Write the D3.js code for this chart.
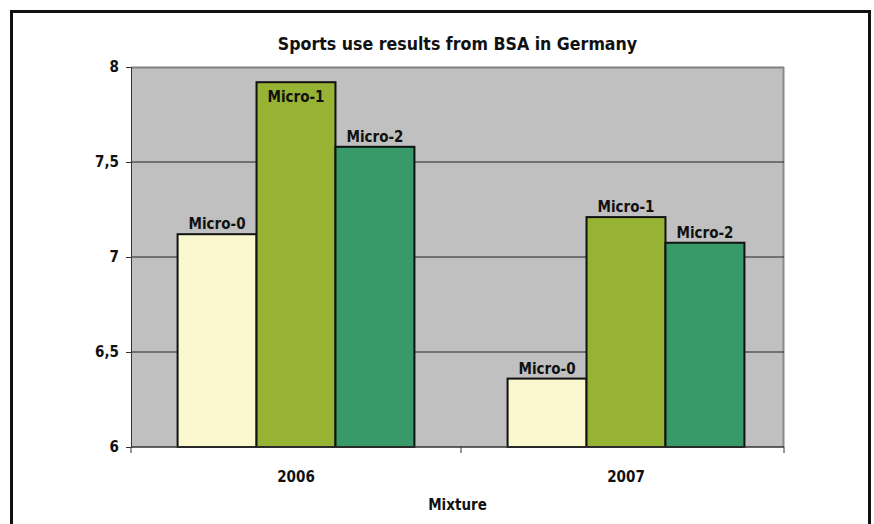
<!DOCTYPE html>
<html>
<head>
<meta charset="utf-8">
<script src="https://cdn.jsdelivr.net/npm/d3@7"></script>
<style>
  body { margin: 0; background: #fff; }
  text { font-family: "DejaVu Sans Condensed", "DejaVu Sans", sans-serif; font-weight: bold; fill: #111; }
</style>
</head>
<body>
<svg id="chart" width="874" height="524"></svg>
<script>
// chart values
let years = ["2006", "2007"]
let series = ["Micro-0", "Micro-1", "Micro-2"]
let micro0 = [7.12, 6.36]
let micro1 = [7.92, 7.21]
let micro2 = [7.58, 7.075]
let yTicks = [6, 6.5, 7, 7.5, 8]
let colors = ["#FBF7CF", "#97B333", "#379A68"]

let svg = d3.select("#chart")
let plotL = 131, plotR = 784, plotT = 67, plotB = 447

let rows = years.map((y, i) => ({year: y, vals: [micro0[i], micro1[i], micro2[i]]}))

// outer frame
svg.append("rect")
    .attr("x", 11.5).attr("y", 11.5)
    .attr("width", 858).attr("height", 540)
    .attr("fill", "none")
    .attr("stroke", "#111")
    .attr("stroke-width", 3)

// categories sit a little right in the original, so band runs past the gray edge
let x0 = d3.scaleBand().domain(years).range([plotL, plotR + 7])
let x1 = d3.scaleBand().domain(series).range([0, x0.bandwidth()])
        .paddingInner(0).paddingOuter(0.59)
let y = d3.scaleLinear().domain([6, 8]).range([plotB, plotT])

// plot background
svg.append("rect")
    .attr("x", plotL).attr("y", plotT)
    .attr("width", plotR - plotL).attr("height", plotB - plotT)
    .attr("fill", "#C0C0C0")
svg.append("line")
    .attr("x1", plotL).attr("x2", plotR)
    .attr("y1", plotT + 0.5).attr("y2", plotT + 0.5)
    .attr("stroke", "#7f7f7f").attr("stroke-width", 2)
svg.append("line")
    .attr("x1", plotR - 0.5).attr("x2", plotR - 0.5)
    .attr("y1", plotT).attr("y2", plotB)
    .attr("stroke", "#8a8a8a").attr("stroke-width", 2)

// gridlines
svg.selectAll(".grid")
   .data(yTicks.filter(d => d > 6 && d < 8))
   .enter()
   .append("line")
    .attr("x1", plotL).attr("x2", plotR)
    .attr("y1", d => y(d)).attr("y2", d => y(d))
    .attr("stroke", "#222").attr("stroke-width", 1)

// y axis
let yAxis = svg.append("g")
    .attr("transform", `translate(${plotL},0)`)
    .call(d3.axisLeft(y).tickValues(yTicks).tickSize(5).tickPadding(7)
          .tickFormat(d => String(d).replace(".", ",")))
yAxis.select(".domain").attr("stroke", "#333")
yAxis.selectAll("line").attr("stroke", "#333")
yAxis.selectAll("text").style("font-size", "15px").attr("fill", "#111")

// bars
let groups = svg.selectAll(".grp")
   .data(rows)
   .enter()
   .append("g")
    .attr("transform", d => `translate(${x0(d.year)},0)`)

groups.selectAll("rect")
   .data(d => d.vals.map((v, i) => ({s: series[i], v: v, c: colors[i]})))
   .enter()
   .append("rect")
    .attr("x", d => x1(d.s))
    .attr("y", d => y(d.v))
    .attr("width", x1.bandwidth())
    .attr("height", d => plotB - y(d.v))
    .attr("fill", d => d.c)
    .attr("stroke", "#111")
    .attr("stroke-width", 2)

groups.selectAll(".lbl")
   .data(d => d.vals.map((v, i) => ({s: series[i], v: v})))
   .enter()
   .append("text")
    .attr("x", d => x1(d.s) + x1.bandwidth() / 2)
    .attr("y", d => (y(d.v) < plotT + 20) ? y(d.v) + 20 : y(d.v) - 5)
    .attr("text-anchor", "middle")
    .style("font-size", "15px")
    .text(d => d.s)

// x axis
svg.append("line")
    .attr("x1", plotL).attr("x2", plotR)
    .attr("y1", plotB).attr("y2", plotB)
    .attr("stroke", "#333").attr("stroke-width", 1.5)
svg.selectAll(".xt")
   .data([plotL, x0("2007"), plotR])
   .enter()
   .append("line")
    .attr("x1", d => d).attr("x2", d => d)
    .attr("y1", plotB).attr("y2", plotB + 6)
    .attr("stroke", "#333")

svg.selectAll(".xl")
   .data(years)
   .enter()
   .append("text")
    .attr("x", d => x0(d) + x0.bandwidth() / 2)
    .attr("y", 482)
    .attr("text-anchor", "middle")
    .style("font-size", "15px")
    .text(d => d)

svg.append("text")
    .attr("x", (plotL + plotR) / 2)
    .attr("y", 510)
    .attr("text-anchor", "middle")
    .style("font-size", "15px")
    .text("Mixture")

svg.append("text")
    .attr("x", (plotL + plotR) / 2)
    .attr("y", 50)
    .attr("text-anchor", "middle")
    .style("font-size", "17.6px")
    .text("Sports use results from BSA in Germany")
</script>
</body>
</html>
